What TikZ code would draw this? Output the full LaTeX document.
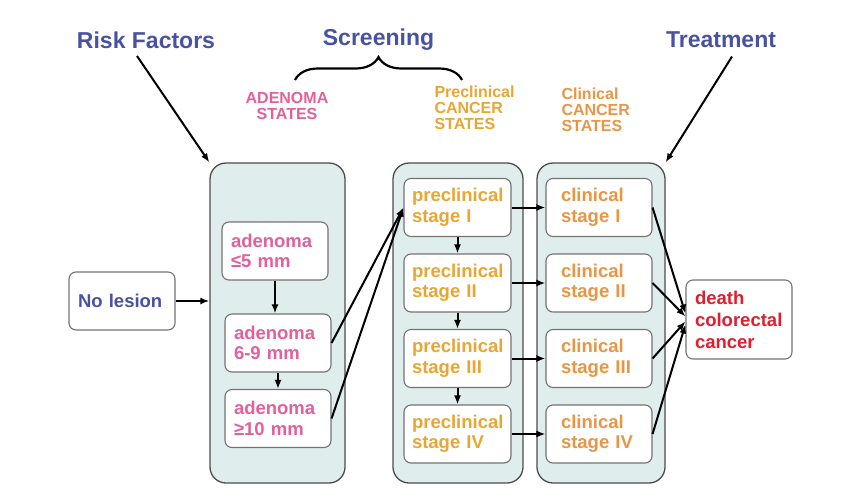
\documentclass[tikz,border=0pt]{standalone}
\usepackage{fontspec}
\setmainfont{Liberation Sans}
\usepackage{xcolor}
\usetikzlibrary{arrows.meta}
\usetikzlibrary{calc}
\usetikzlibrary{decorations.pathreplacing}
\definecolor{titleblue}{RGB}{72,82,160}
\definecolor{adpink}{RGB}{226,96,156}
\definecolor{preorange}{RGB}{232,166,52}
\definecolor{clinorange}{RGB}{232,150,70}
\definecolor{deathred}{RGB}{226,30,46}
\definecolor{grpfill}{RGB}{224,237,237}
\tikzset{
    group/.style={draw=black!70, fill=grpfill, line width=1.3pt, rounded corners=16pt,
        minimum height=320pt, inner sep=0pt},
    state/.style={draw=black!55, fill=white, line width=1.1pt, rounded corners=7pt,
        minimum width=106pt, minimum height=58pt, inner sep=0pt, text width=88pt, align=left,
        font=\bfseries\fontsize{18.5}{20.5}\selectfont},
    adstate/.style={state, text=adpink},
    prestate/.style={state, text=preorange, minimum width=107pt, text width=91pt},
    clinstate/.style={state, text=clinorange, text width=76pt},
    heading/.style={text=titleblue, font=\bfseries\fontsize{23}{26}\selectfont},
    statelabel/.style={font=\bfseries\fontsize{16}{16}\selectfont},
    flow/.style={-{Latex[length=9pt,width=7pt]}, line width=2pt},
}

\begin{document}
\begin{tikzpicture}[x=1pt, y=-1pt]
    \useasboundingbox (0,0) rectangle (865,493);
    % headings
    \node[heading] (risk) at (146,40) {Risk Factors};
    \node[heading] (screen) at (378.5,40) {Screening};
    \node[heading] (treat) at (721,40) {Treatment};
    \coordinate (braceL) at (295,80);
    \coordinate (braceR) at (462,80);
    \draw[line width=2.2pt, decorate, decoration={brace, amplitude=23pt}] (braceL) -- (braceR);
    \node[statelabel, text=adpink, align=center] (adlabel) at (287,106) {ADENOMA\\STATES};
    \node[statelabel, text=preorange, align=left, anchor=west] (prelabel) at (431,108)
        {Preclinical\\CANCER\\STATES};
    \node[statelabel, text=clinorange, align=left, anchor=west] (clinlabel) at (558,109.5)
        {Clinical\\CANCER\\STATES};
    % containers
    \node[group, minimum width=135pt] (adgroup) at (277.5,323) {};
    \node[group, minimum width=130pt] (pregroup) at (458,323) {};
    \node[group, minimum width=128pt] (clingroup) at (601,323) {};
    % states
    \node[state, text=titleblue] (nolesion) at (122,301) {No lesion};
    \node[adstate] (ad1) at (275,251) {adenoma\\≤5 mm};
    \node[adstate] (ad2) at (278,343) {adenoma\\6-9 mm};
    \node[adstate] (ad3) at (278,418.5) {adenoma\\≥10 mm};
    \node[state, text=deathred, minimum height=79pt,
        font=\bfseries\fontsize{18.5}{22}\selectfont] (death) at (739,319.5)
        {death\\colorectal\\cancer};
    \foreach \i/\s/\y in {1/I/207.5, 2/II/283, 3/III/358.5, 4/IV/434} {
        \node[prestate] (pre\i) at (457.5,\y) {preclinical\\stage \s};
        \node[clinstate] (cli\i) at (599,\y) {clinical\\stage \s};
        \draw[flow] (pre\i) -- (cli\i);
    }
    \foreach \i/\j in {1/2, 2/3, 3/4} {
        \draw[flow] (pre\i) -- (pre\j);
    }
    \foreach \i/\d in {1/-6, 2/-3, 3/2, 4/5} {
        \draw[flow] (cli\i.east) -- ($(death.west)+(0,\d)$);
    }
    % arrows
    \draw[flow] ($(risk.south)+(-9,4)$) -- (adgroup.north west);
    \draw[flow] ($(treat.south)+(11,5)$) -- (clingroup.north east);
    \draw[flow] (nolesion) -- (adgroup.west |- nolesion);
    \draw[flow] (ad1) -- (ad1.south |- ad2.north);
    \draw[flow] (ad2) -- (ad2.south |- ad3.north);
    \draw[flow] (ad2.east) -- (pre1.west);
    \draw[flow] (ad3.east) -- (pre1.west);
\end{tikzpicture}
\end{document}
